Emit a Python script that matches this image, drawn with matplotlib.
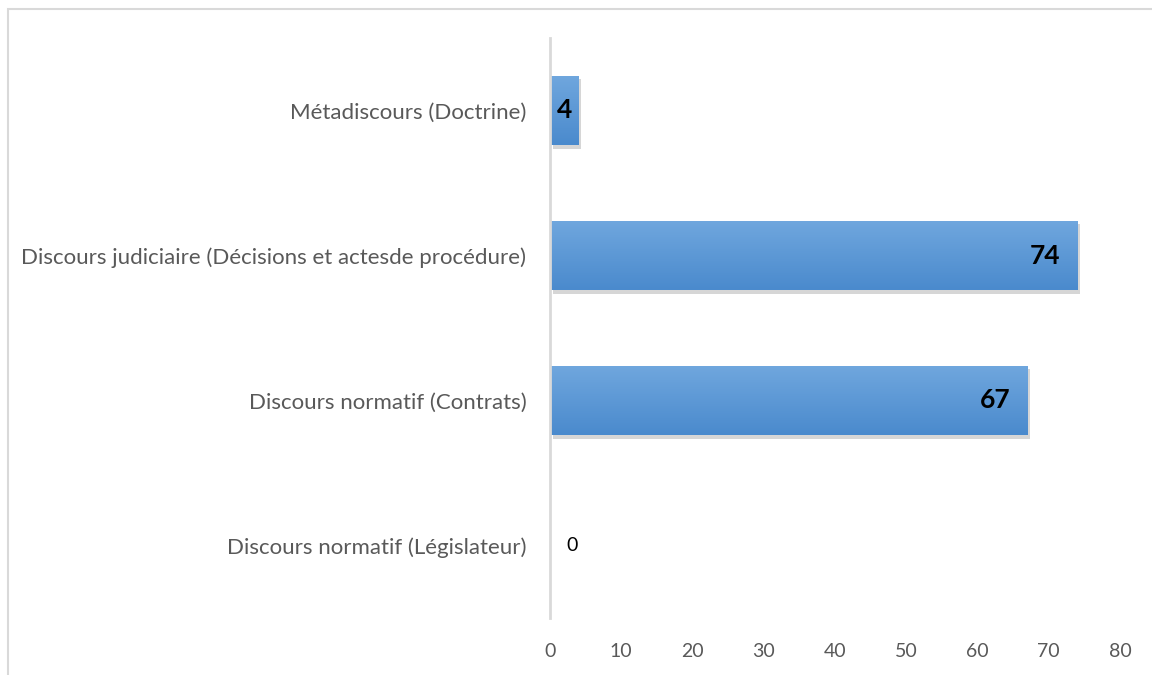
import matplotlib
matplotlib.use('Agg')
import numpy as np
import matplotlib.pyplot as plt
from matplotlib import patheffects
from matplotlib.patches import Rectangle
from matplotlib.colors import LinearSegmentedColormap

categories = [
    'Discours normatif (Législateur)',
    'Discours normatif (Contrats)',
    'Discours judiciaire (Décisions et actesde procédure)',
    'Métadiscours (Doctrine)',
]
values = [0, 67, 74, 4]
xticks = [0, 10, 20, 30, 40, 50, 60, 70, 80]

plt.rcParams['font.family'] = ['Lato', 'DejaVu Sans']

fig = plt.figure(figsize=(11.52, 6.75), dpi=100)
ax = fig.add_axes([550 / 1152, 1 - 618 / 675, 570 / 1152, 580 / 675])

# light frame around the chart (Excel style)
fig.patches.append(Rectangle((8 / 1152, -0.1), 1.2, 1 - 9 / 675 + 0.1,
                             transform=fig.transFigure, fill=False,
                             edgecolor='#d9d9d9', linewidth=1.5))

y = np.arange(len(categories))
bar_h = 0.48
bars = ax.barh(y, values, height=bar_h, color='#5b9bd5', zorder=2,
               path_effects=[patheffects.SimplePatchShadow(offset=(2, -2.5), shadow_rgbFace='#999999', alpha=0.4),
                             patheffects.Normal()])

# vertical gradient on each bar, lighter on top
grad = np.linspace(0, 1, 256).reshape(-1, 1)
cmap = LinearSegmentedColormap.from_list('blu', ['#70a7de', '#4a8acd'])
for b in bars:
    if b.get_width() <= 0:
        continue
    x0, y0 = b.get_x(), b.get_y()
    im = ax.imshow(grad, cmap=cmap, aspect='auto', zorder=3, origin='upper',
                   extent=[x0, x0 + b.get_width(), y0, y0 + b.get_height()])
    im.set_clip_path(b)

# data labels
for yi, v in zip(y, values):
    if v >= 10:
        ax.annotate(str(v), (v, yi), xytext=(-12, 0), textcoords='offset points',
                    ha='right', va='center', fontsize=19, fontweight='bold', color='black', zorder=5)
    elif v > 0:
        ax.annotate(str(v), (v / 2, yi), ha='center', va='center',
                    fontsize=19, fontweight='bold', color='black', zorder=5)
    else:
        ax.annotate(str(v), (v, yi), xytext=(12, 0), textcoords='offset points',
                    ha='left', va='center', fontsize=14, color='black', zorder=5)

ax.set_xlim(0, 80)
ax.set_ylim(-0.5, len(categories) - 0.5)
ax.set_xticks(xticks)
ax.set_yticks(y)
ax.set_yticklabels(categories)
ax.tick_params(axis='both', length=0, labelsize=14, labelcolor='#595959')
ax.tick_params(axis='y', labelsize=16, pad=17)
ax.tick_params(axis='x', pad=18)

for s in ['top', 'right', 'bottom']:
    ax.spines[s].set_visible(False)
ax.spines['left'].set_color('#d9d9d9')
ax.spines['left'].set_linewidth(2)
ax.spines['left'].set_zorder(6)

fig.savefig('out.png', dpi=100)
